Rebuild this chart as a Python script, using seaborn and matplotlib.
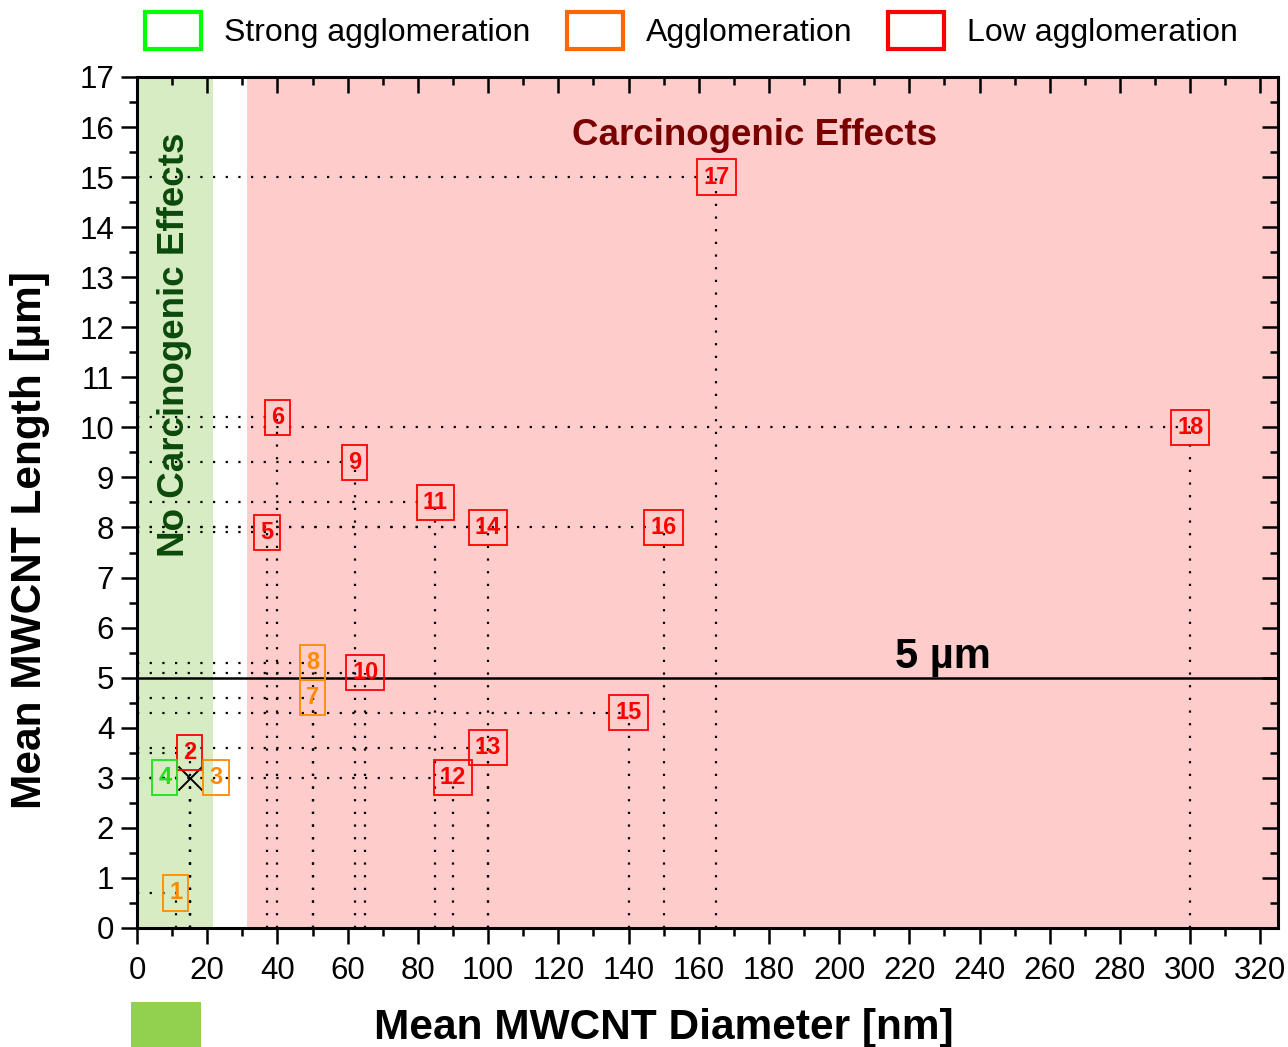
import matplotlib
matplotlib.use('Agg')
import matplotlib.pyplot as plt
from matplotlib import font_manager
from matplotlib.patches import Patch, Rectangle
from matplotlib.ticker import MultipleLocator
import seaborn as sns

# --------------------------
# DATA
# --------------------------
sample_ids = ['1', '2', '3', '4', '5', '6', '7', '8', '9', '10',
              '11', '12', '13', '14', '15', '16', '17', '18']
diameters = [11, 15, 15, 15, 37, 40, 50, 50, 62, 65,
             85, 90, 100, 100, 140, 150, 165, 300]           # nm
lengths = [0.7, 3.5, 3.0, 3.0, 7.9, 10.2, 4.6, 5.3, 9.3, 5.1,
           8.5, 3.0, 3.6, 8.0, 4.3, 8.0, 15.0, 10.0]        # um
agglomeration = ['Agglomeration', 'Low agglomeration', 'Agglomeration', 'Strong agglomeration',
                 'Low agglomeration', 'Low agglomeration', 'Agglomeration', 'Agglomeration',
                 'Low agglomeration', 'Low agglomeration', 'Low agglomeration', 'Low agglomeration',
                 'Low agglomeration', 'Low agglomeration', 'Low agglomeration', 'Low agglomeration',
                 'Low agglomeration', 'Low agglomeration']
legend_labels = ['Strong agglomeration', 'Agglomeration', 'Low agglomeration']

# point shared by samples 3 and 4 (marked by a cross)
cross_x = [15]
cross_y = [3.0]

threshold_length = 5          # um
no_effect_zone = (0, 21.5)    # nm
effect_zone = (31.2, 325)     # nm

# --------------------------
# STYLE
# --------------------------
sns.set_theme(style='ticks')
plt.rcParams['font.family'] = ['Liberation Sans', 'DejaVu Sans']
plt.rcParams['text.color'] = 'black'
plt.rcParams['axes.labelcolor'] = 'black'
plt.rcParams['xtick.color'] = 'black'
plt.rcParams['ytick.color'] = 'black'

installed = {f.name for f in font_manager.fontManager.ttflist}
if 'Liberation Sans Narrow' in installed:
    narrow = ['Liberation Sans Narrow', 'Liberation Sans', 'DejaVu Sans']
    tick_size, legend_size = 25, 27
else:
    narrow = ['Liberation Sans', 'DejaVu Sans']
    tick_size, legend_size = 22.5, 23

label_colors = {'Strong agglomeration': '#1FE01F',
                'Agglomeration': '#FF8A00',
                'Low agglomeration': '#FF0000'}
legend_colors = ['#00FF00', '#FF6600', '#FF0000']
label_offsets = {'3': (19, 0), '4': (-18, 0)}   # points
dots = (0, (1, 4.7))

fig = plt.figure(figsize=(12.88, 10.47), dpi=100)
ax = fig.add_axes([0.1064, 0.1137, 0.8858, 0.8128])

# regions
ax.axvspan(*no_effect_zone, color='#D8ECC4', lw=0, zorder=0)
ax.axvspan(*effect_zone, color='#FFCCCC', lw=0, zorder=0)

# dotted guide lines
ax.vlines(diameters, 0, lengths, colors='black', linestyles=dots, lw=1.6, zorder=2)
ax.hlines(lengths, 0, diameters, colors='black', linestyles=dots, lw=1.6, zorder=2)

# 5 um threshold
ax.axhline(threshold_length, color='black', lw=1.8, zorder=2)
ax.text(229.6, 5.41, '5 µm', fontsize=30, fontweight='bold', ha='center', va='center',
        color='black', zorder=4)

sns.scatterplot(x=cross_x, y=cross_y, marker='x', s=300, color='black', linewidth=1.4, ax=ax, zorder=3)

# sample labels
for sid, d, l, cat in zip(sample_ids, diameters, lengths, agglomeration):
    c = label_colors[cat]
    ax.annotate(sid, (d, l), xytext=label_offsets.get(sid, (0, 0)), textcoords='offset points',
                ha='center', va='center', fontsize=17, fontweight='bold', color=c, zorder=4,
                bbox=dict(boxstyle='square,pad=0.26', fc='none', ec=c, lw=1.3))

ax.text(175.8, 15.84, 'Carcinogenic Effects', fontsize=26.5, fontweight='bold',
        color='#7A0000', ha='center', va='center', zorder=4)
ax.text(10.8, 11.65, 'No Carcinogenic Effects', fontsize=26.5, fontweight='bold',
        color='#0B4A0B', ha='center', va='center', rotation=90, zorder=4)

# axes
ax.set_xlim(0, 325)
ax.set_ylim(0, 17)
ax.xaxis.set_major_locator(MultipleLocator(20))
ax.xaxis.set_minor_locator(MultipleLocator(10))
ax.yaxis.set_major_locator(MultipleLocator(1))
ax.yaxis.set_minor_locator(MultipleLocator(0.5))
ax.tick_params(which='major', direction='out', length=11.5, width=1.8, colors='black',
               labelsize=tick_size)
ax.tick_params(which='minor', direction='out', length=5.8, width=1.8, colors='black')
ax.tick_params(axis='x', pad=9)
ax.tick_params(axis='y', pad=5)
for lab in ax.get_xticklabels() + ax.get_yticklabels():
    lab.set_family(narrow)
for sp in ax.spines.values():
    sp.set_visible(True)
    sp.set_linewidth(2.2)
    sp.set_color('black')
    sp.set_zorder(5)

top = ax.secondary_xaxis('top')
top.xaxis.set_major_locator(MultipleLocator(20))
top.xaxis.set_minor_locator(MultipleLocator(10))
top.tick_params(which='major', direction='in', length=11.5, width=1.8, labeltop=False)
top.tick_params(which='minor', direction='in', length=5.8, width=1.8)
top.spines['top'].set_visible(False)
right = ax.secondary_yaxis('right')
right.yaxis.set_major_locator(MultipleLocator(1))
right.yaxis.set_minor_locator(MultipleLocator(0.5))
right.tick_params(which='major', direction='in', length=11.5, width=1.8, labelright=False)
right.tick_params(which='minor', direction='in', length=5.8, width=1.8)
right.spines['right'].set_visible(False)

ax.set_xlabel('Mean MWCNT Diameter [nm]', fontsize=30.5, fontweight='bold', color='black')
ax.set_ylabel('Mean MWCNT Length [µm]', fontsize=30.5, fontweight='bold', color='black')
ax.xaxis.set_label_coords(0.462, -0.094)
ax.yaxis.set_label_coords(-0.076, 0.456)

# legend on top
handles = [Patch(facecolor='none', edgecolor=c, lw=3) for c in legend_colors]
fs_px = legend_size * 100 / 72
leg = fig.legend(handles, legend_labels, loc='center', bbox_to_anchor=(0.537, 0.971), ncol=3,
                 frameon=False, prop={'family': narrow, 'size': legend_size},
                 handlelength=56 / fs_px, handleheight=44 / fs_px,
                 handletextpad=23 / fs_px, columnspacing=36 / fs_px, borderpad=0, borderaxespad=0)
for t in leg.get_texts():
    t.set_color('black')

# green swatch bottom left
fig.patches.append(Rectangle((131 / 1288, 0), 70 / 1288, 45 / 1047, transform=fig.transFigure,
                             facecolor='#92D050', edgecolor='none'))

fig.savefig('out.png', dpi=100)
plt.close(fig)
